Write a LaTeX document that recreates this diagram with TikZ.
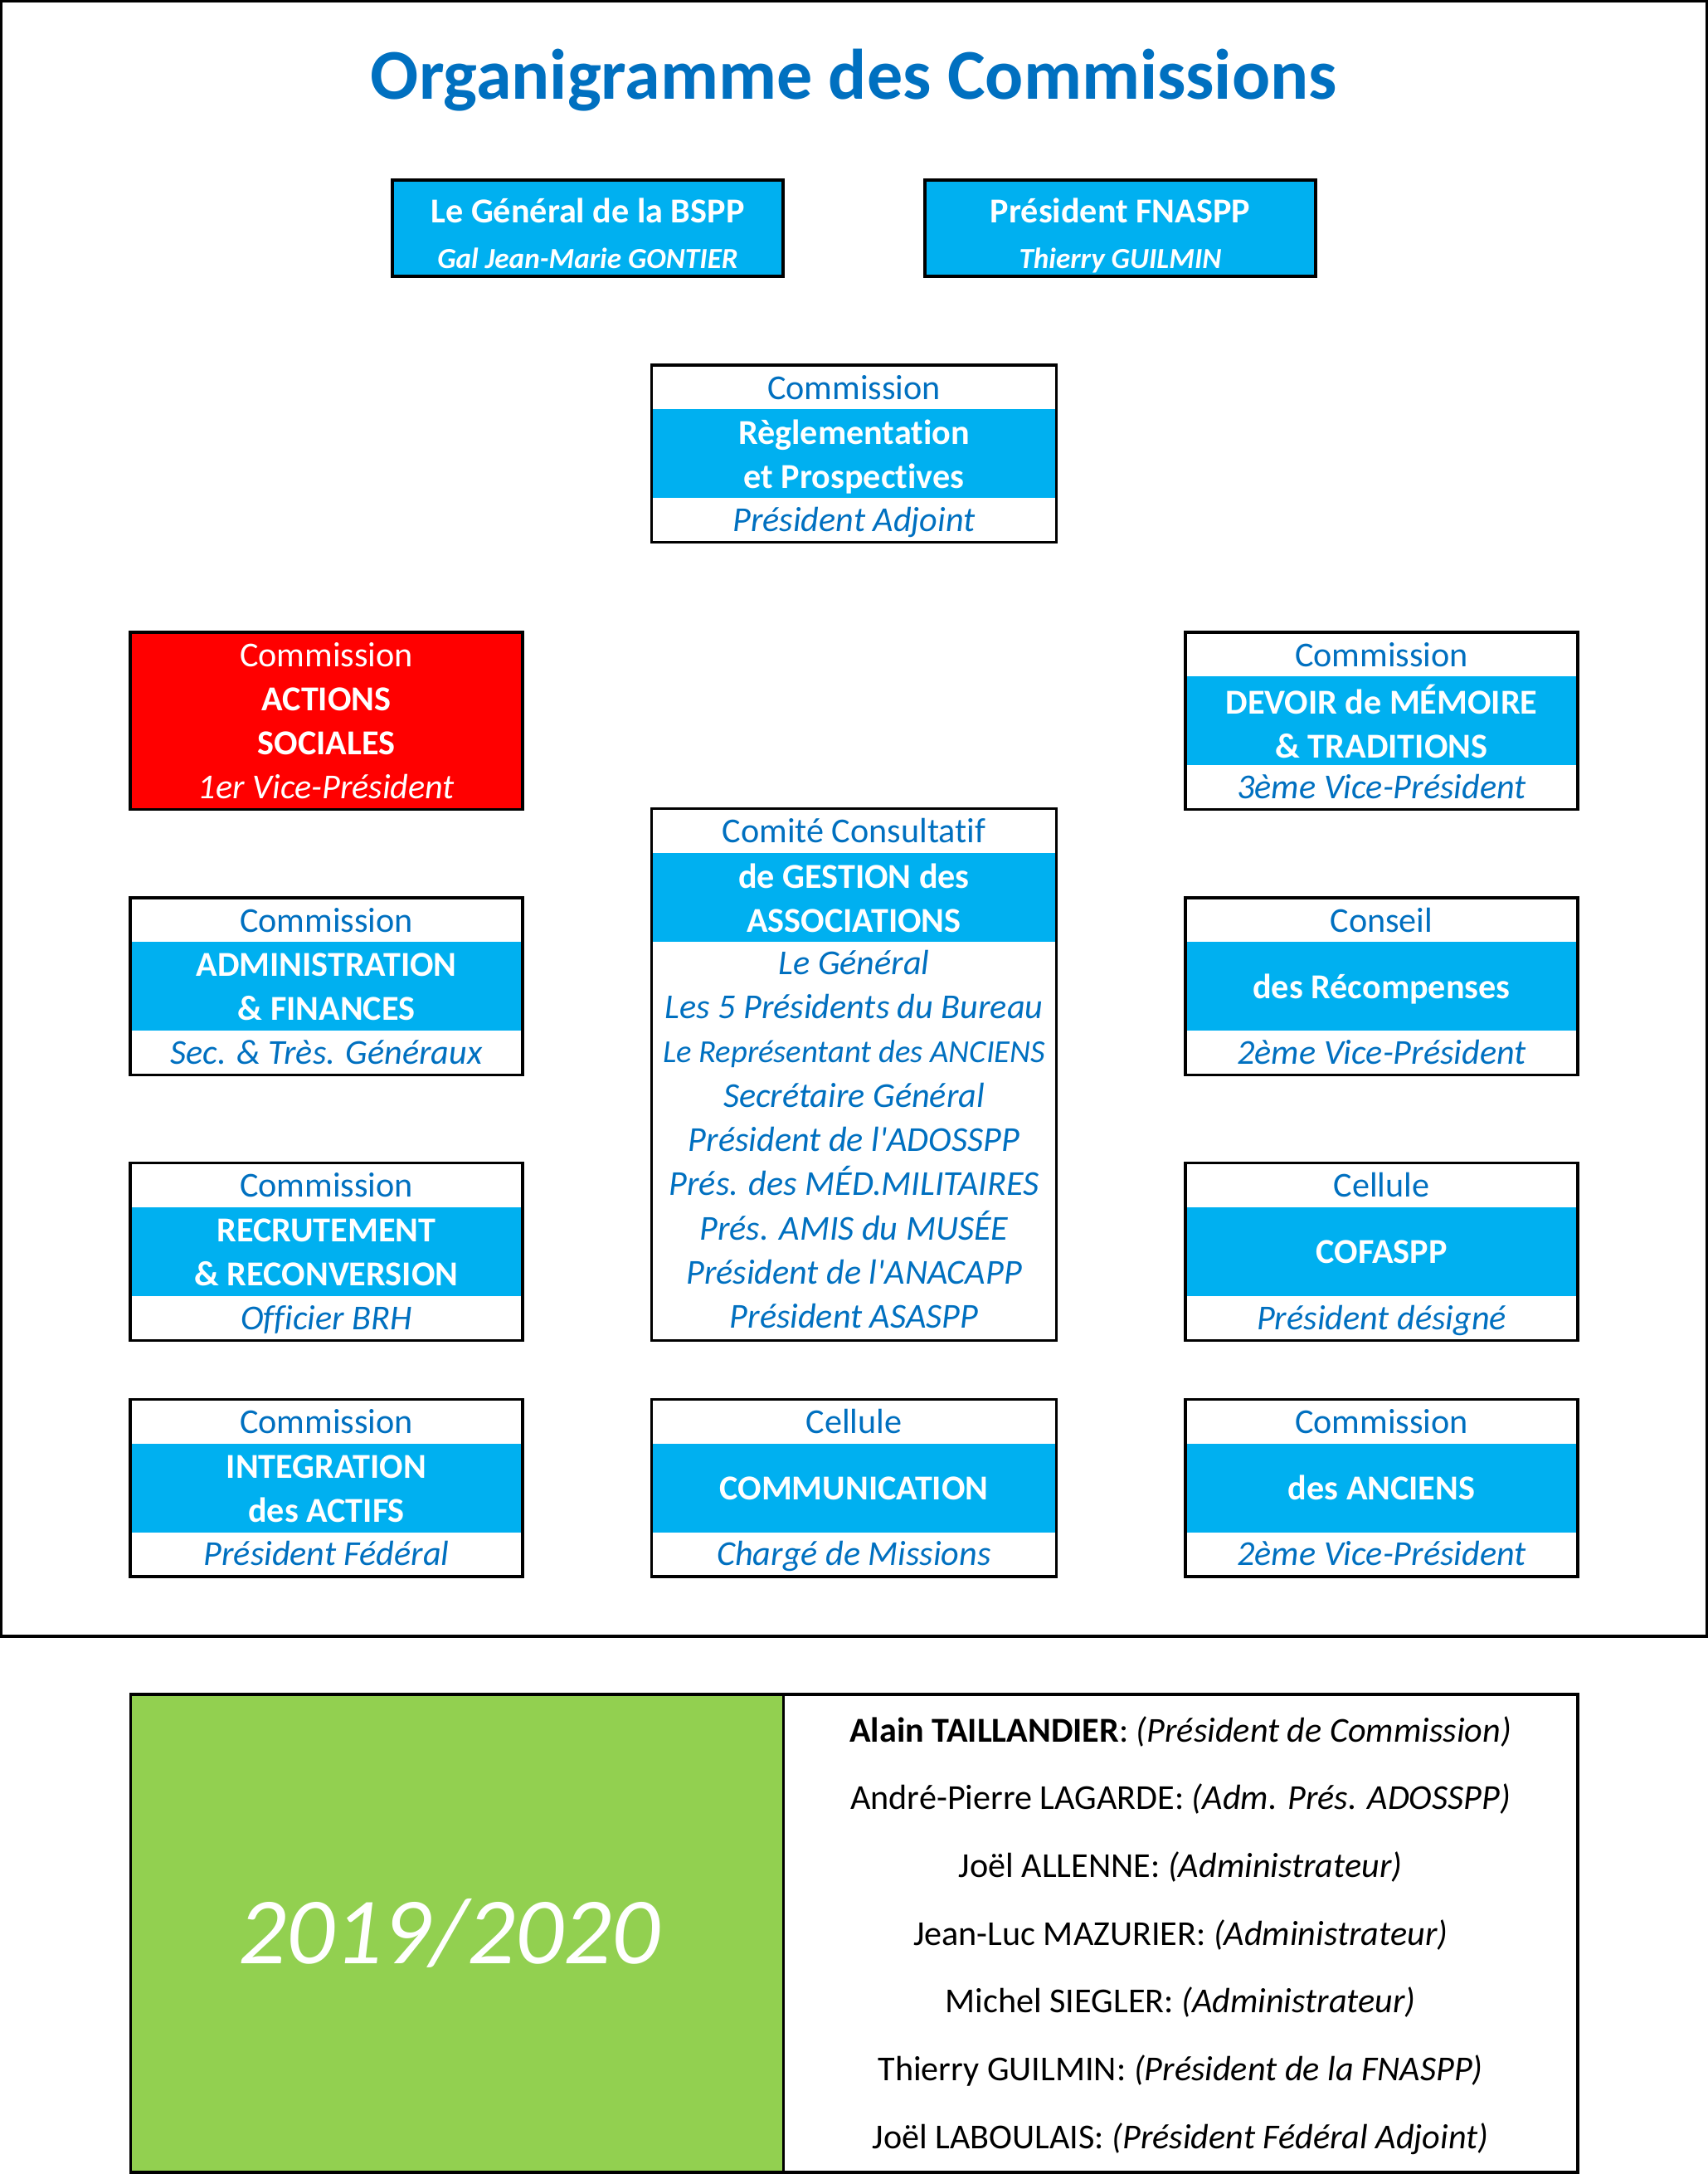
\documentclass[tikz,border=0pt]{standalone}
\usepackage{fontspec}
\setmainfont{Carlito}[Ligatures={TeX,NoCommon}]
\definecolor{orgblue}{RGB}{0, 112, 192}
\definecolor{skyband}{RGB}{0, 176, 240}
\definecolor{socred}{RGB}{255, 0, 0}
\definecolor{yeargreen}{RGB}{146, 208, 80}

\tikzset{
  cell/.style={draw=black, line width=0.9pt, inner sep=0pt, minimum width=4.73cm, minimum height=2.136cm},
  commbox/.style={cell, fill=white, path picture={
      \fill[skyband] ([yshift=-5.34mm]path picture bounding box.north west) rectangle ([yshift=-16.02mm]path picture bounding box.north east);}},
  redbox/.style={cell, fill=socred},
  chiefbox/.style={cell, fill=skyband, minimum width=4.71cm, minimum height=1.16cm},
  rowtxt/.style={inner sep=0pt, align=center, font=\fontsize{12}{15.16}\selectfont,
      execute at begin node=\strut, execute at end node=\strut},
  toptxt/.style={rowtxt, text=orgblue},
  bandtxt/.style={rowtxt, text=white, font=\fontsize{12}{15.16}\selectfont\bfseries},
  bottxt/.style={rowtxt, text=orgblue, font=\fontsize{12}{15.16}\selectfont\itshape},
  chieftxt/.style={rowtxt, text=white, font=\fontsize{12}{15.16}\selectfont\bfseries},
  chiefname/.style={rowtxt, text=white, font=\fontsize{10}{12.6}\selectfont\bfseries\itshape}
}

\begin{document}
\begin{tikzpicture}
  \useasboundingbox (0,0) rectangle (20.59,-26.2);
  \draw[line width=0.9pt] (0.016,-0.016) rectangle (20.574,-19.72);

  % Title
  \node[text=orgblue, font=\fontsize{24.5}{29}\selectfont\bfseries, inner sep=0pt] (title) at (10.295,-0.97) {Organigramme des Commissions};

  % Heads
  \node[chiefbox] (bspp) at (7.085,-2.75) {};
  \node[chieftxt] (bspp-t) at ([yshift=-4.2mm]bspp.north) {Le Général de la BSPP};
  \node[chiefname] (bspp-n) at ([yshift=2.0mm]bspp.south) {Gal Jean-Marie GONTIER};

  \node[chiefbox] (fnaspp) at (13.505,-2.75) {};
  \node[chieftxt] (fnaspp-t) at ([yshift=-4.2mm]fnaspp.north) {Président FNASPP};
  \node[chiefname] (fnaspp-n) at ([yshift=2.0mm]fnaspp.south) {Thierry GUILMIN};

  % Middle column
  \node[commbox, minimum width=4.88cm] (regl) at (10.295,-5.468) {};
  \node[toptxt] (regl-t) at ([yshift=-3.2mm]regl.north) {Commission};
  \node[bandtxt] (regl-b) at ([yshift=-11.7mm]regl.north) {Règlementation\\et Prospectives};
  \node[bottxt] (regl-p) at ([yshift=2.55mm]regl.south) {Président Adjoint};

  \node[commbox, minimum width=4.88cm, minimum height=6.408cm] (comite) at (10.295,-12.949) {};
  \node[toptxt] (comite-t) at ([yshift=-3.2mm]comite.north) {Comité Consultatif};
  \node[bandtxt] (comite-b) at ([yshift=-11.7mm]comite.north) {de GESTION des\\ASSOCIATIONS};
  \node[bottxt] (comite-p) at ([yshift=23.6mm]comite.south) {
    Le Général\\
    Les 5 Présidents du Bureau\\
    {\fontsize{11}{15.16}\selectfont Le Représentant des ANCIENS}\\
    Secrétaire Général\\
    Président de l\textquotesingle ADOSSPP\\
    Prés. des MÉD.MILITAIRES\\
    Prés. AMIS du MUSÉE\\
    Président de l\textquotesingle ANACAPP\\
    Président ASASPP
  };

  \node[commbox, minimum width=4.88cm] (comm) at (10.295,-17.932) {};
  \node[toptxt] (comm-t) at ([yshift=-3.2mm]comm.north) {Cellule};
  \node[bandtxt] (comm-b) at ([yshift=-11.2mm]comm.north) {COMMUNICATION};
  \node[bottxt] (comm-p) at ([yshift=2.55mm]comm.south) {Chargé de Missions};

  % Left column
  \node[redbox] (social) at (3.935,-8.688) {};
  \node[toptxt, text=white] (social-t) at ([yshift=-3.2mm]social.north) {Commission};
  \node[bandtxt] (social-b) at ([yshift=-11.7mm]social.north) {ACTIONS\\SOCIALES};
  \node[bottxt, text=white] (social-p) at ([yshift=2.55mm]social.south) {1er Vice-Président};

  \node[commbox] (admin) at (3.935,-11.888) {};
  \node[toptxt] (admin-t) at ([yshift=-3.2mm]admin.north) {Commission};
  \node[bandtxt] (admin-b) at ([yshift=-11.7mm]admin.north) {ADMINISTRATION\\\& FINANCES};
  \node[bottxt] (admin-p) at ([yshift=2.55mm]admin.south) {Sec. \& Très. Généraux};

  \node[commbox] (recrut) at (3.935,-15.085) {};
  \node[toptxt] (recrut-t) at ([yshift=-3.2mm]recrut.north) {Commission};
  \node[bandtxt] (recrut-b) at ([yshift=-11.7mm]recrut.north) {RECRUTEMENT\\\& RECONVERSION};
  \node[bottxt] (recrut-p) at ([yshift=2.55mm]recrut.south) {Officier BRH};

  \node[commbox] (integ) at (3.935,-17.932) {};
  \node[toptxt] (integ-t) at ([yshift=-3.2mm]integ.north) {Commission};
  \node[bandtxt] (integ-b) at ([yshift=-11.7mm]integ.north) {INTEGRATION\\des ACTIFS};
  \node[bottxt] (integ-p) at ([yshift=2.55mm]integ.south) {Président Fédéral};

  % Right column
  \node[commbox] (memoire) at (16.655,-8.688) {};
  \node[toptxt] (memoire-t) at ([yshift=-3.2mm]memoire.north) {Commission};
  \node[bandtxt] (memoire-b) at ([yshift=-11.7mm]memoire.north) {DEVOIR de MÉMOIRE\\\& TRADITIONS};
  \node[bottxt] (memoire-p) at ([yshift=2.55mm]memoire.south) {3ème Vice-Président};

  \node[commbox] (recomp) at (16.655,-11.888) {};
  \node[toptxt] (recomp-t) at ([yshift=-3.2mm]recomp.north) {Conseil};
  \node[bandtxt] (recomp-b) at ([yshift=-11.2mm]recomp.north) {des Récompenses};
  \node[bottxt] (recomp-p) at ([yshift=2.55mm]recomp.south) {2ème Vice-Président};

  \node[commbox] (cofaspp) at (16.655,-15.085) {};
  \node[toptxt] (cofaspp-t) at ([yshift=-3.2mm]cofaspp.north) {Cellule};
  \node[bandtxt] (cofaspp-b) at ([yshift=-11.2mm]cofaspp.north) {COFASPP};
  \node[bottxt] (cofaspp-p) at ([yshift=2.55mm]cofaspp.south) {Président désigné};

  \node[commbox] (anciens) at (16.655,-17.932) {};
  \node[toptxt] (anciens-t) at ([yshift=-3.2mm]anciens.north) {Commission};
  \node[bandtxt] (anciens-b) at ([yshift=-11.2mm]anciens.north) {des ANCIENS};
  \node[bottxt] (anciens-p) at ([yshift=2.55mm]anciens.south) {2ème Vice-Président};

  % Bottom panel
  \node[draw=black, line width=0.9pt, fill=yeargreen, inner sep=0pt, minimum width=7.872cm, minimum height=5.76cm] (year) at (5.507,-23.30) {};
  \node[text=white, font=\fontsize{32.5}{39}\selectfont\itshape, inner sep=0pt] (year-t) at ([xshift=-0.9mm]year.center) {2019/2020};
  \node[draw=black, line width=0.9pt, fill=white, inner sep=0pt, minimum width=9.577cm, minimum height=5.76cm] (members) at (14.2315,-23.30) {};
  \node[align=center, inner sep=0pt, font=\fontsize{12}{23.25}\selectfont, execute at begin node=\strut, execute at end node=\strut] (members-t) at ([yshift=-1.1mm]members.center) {
    \textbf{Alain TAILLANDIER}: \textit{(Président de Commission)}\\
    André-Pierre LAGARDE: \textit{(Adm. Prés. ADOSSPP)}\\
    Joël ALLENNE: \textit{(Administrateur)}\\
    Jean-Luc MAZURIER: \textit{(Administrateur)}\\
    Michel SIEGLER: \textit{(Administrateur)}\\
    Thierry GUILMIN: \textit{(Président de la FNASPP)}\\
    Joël LABOULAIS: \textit{(Président Fédéral Adjoint)}
  };
\end{tikzpicture}
\end{document}
